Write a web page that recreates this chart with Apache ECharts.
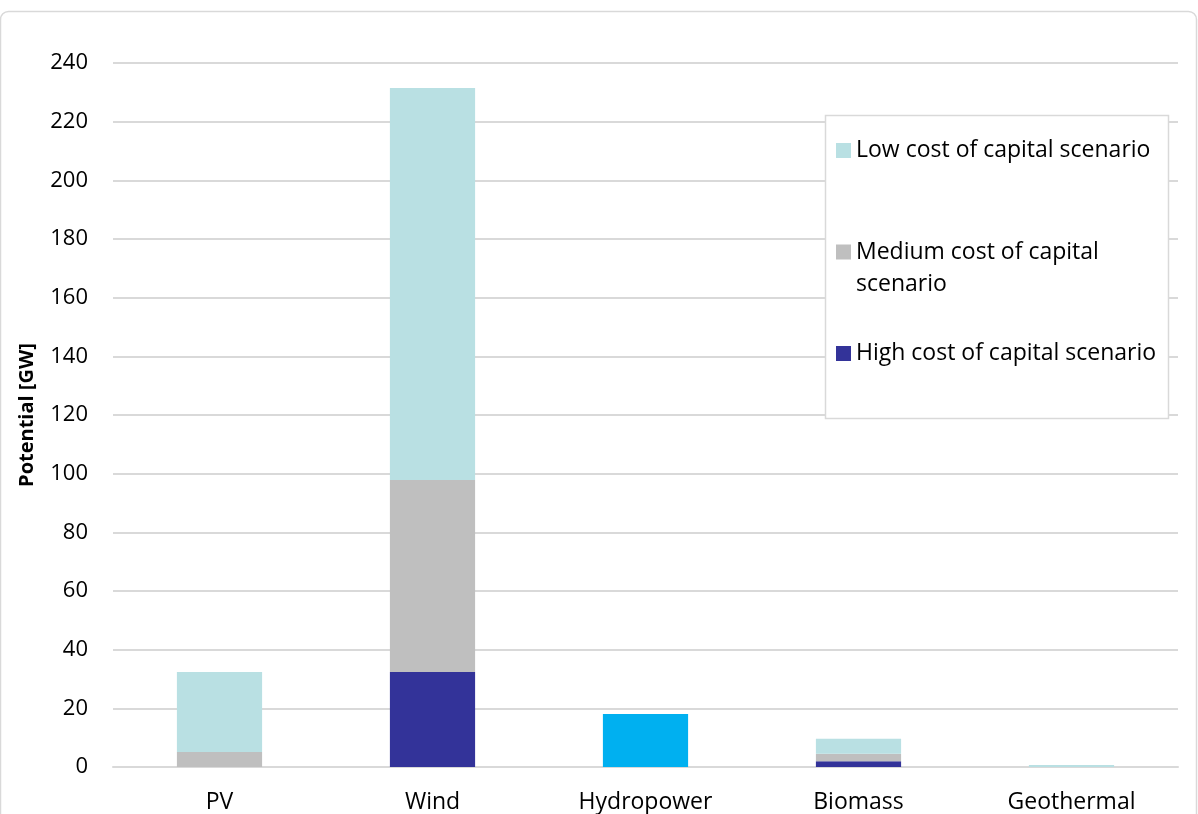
<!DOCTYPE html>
<html>
<head>
<meta charset="utf-8">
<style>
  html, body { margin: 0; padding: 0; background: #fff; }
  #chart { width: 1198px; height: 814px; }
</style>
<script src="https://cdn.jsdelivr.net/npm/echarts@6/dist/echarts.min.js"></script>
</head>
<body>
<div id="chart"></div>
<script>
// Renewable potential by technology and cost-of-capital scenario [GW]
const categories = ['PV', 'Wind', 'Hydropower', 'Biomass', 'Geothermal'];
const highCost   = [0,    32.4, 0,    2.0, 0];
const mediumCost = [5.1,  65.4, 0,    2.5, 0];
const lowCost    = [27.3, 133.7, 0,   5.1, 0.7];
const hydropower = [0,    0,    18.1, 0,   0];
const yTicks = { min: 0, max: 240, interval: 20 };

const FONT = '"Open Sans", "Noto Sans", sans-serif';
const chart = echarts.init(document.getElementById('chart'), null, { renderer: 'canvas' });

const names = {
  high: 'High cost of capital scenario',
  medium: 'Medium cost of capital scenario',
  low: 'Low cost of capital scenario'
};
const colors = { high: '#333399', medium: '#bfbfbf', low: '#b9e0e3', hydro: '#00b0f0' };

function legendAt(name, top, extraText) {
  return {
    data: [name],
    left: 836,
    top: top,
    orient: 'vertical',
    padding: 0,
    itemWidth: 15,
    itemHeight: 15,
    icon: 'rect',
    selectedMode: false,
    textStyle: Object.assign({ fontFamily: FONT, fontSize: 23, color: '#000' }, extraText || {})
  };
}

chart.setOption({
  animation: false,
  backgroundColor: '#fff',
  graphic: [
    {
      type: 'rect', z: -10, silent: true,
      shape: { x: 0.5, y: 11.5, width: 1196, height: 830, r: 8 },
      style: { fill: '#fff', stroke: '#d9d9d9', lineWidth: 1.5 }
    },
    {
      type: 'rect', z: 3, silent: true,
      shape: { x: 825.5, y: 115.5, width: 343, height: 303 },
      style: { fill: '#fff', stroke: '#d9d9d9', lineWidth: 1.5 }
    }
  ],
  legend: [
    legendAt(names.low, 139),
    // two-line label: a blank leading line keeps the marker level with the first line
    Object.assign(legendAt(names.medium, 204, { lineHeight: 32 }), {
      formatter: function () { return ' \nMedium cost of capital\nscenario'; }
    }),
    legendAt(names.high, 342)
  ],
  grid: { left: 113, right: 20, top: 63, bottom: 47, containLabel: false },
  xAxis: {
    type: 'category',
    data: categories,
    axisLine: { show: true, lineStyle: { color: '#d9d9d9', width: 2 } },
    axisTick: { show: false },
    axisLabel: { fontFamily: FONT, fontSize: 23, color: '#000', margin: 24 }
  },
  yAxis: {
    type: 'value',
    min: yTicks.min, max: yTicks.max, interval: yTicks.interval,
    name: 'Potential [GW]',
    nameLocation: 'middle',
    nameGap: 76,
    nameTextStyle: { fontFamily: FONT, fontSize: 20, fontWeight: 'bold', color: '#000' },
    axisLine: { show: false },
    axisTick: { show: false },
    axisLabel: { fontFamily: FONT, fontSize: 22, color: '#000', margin: 25 },
    splitLine: { lineStyle: { color: '#d9d9d9', width: 2 } }
  },
  series: [
    { name: names.high, type: 'bar', stack: 'total', data: highCost, barWidth: '40%',
      itemStyle: { color: colors.high } },
    { name: names.medium, type: 'bar', stack: 'total', data: mediumCost,
      itemStyle: { color: colors.medium } },
    { name: names.low, type: 'bar', stack: 'total', data: lowCost,
      itemStyle: { color: colors.low } },
    { name: 'Hydropower', type: 'bar', stack: 'total', data: hydropower,
      itemStyle: { color: colors.hydro } }
  ]
});
</script>
</body>
</html>
